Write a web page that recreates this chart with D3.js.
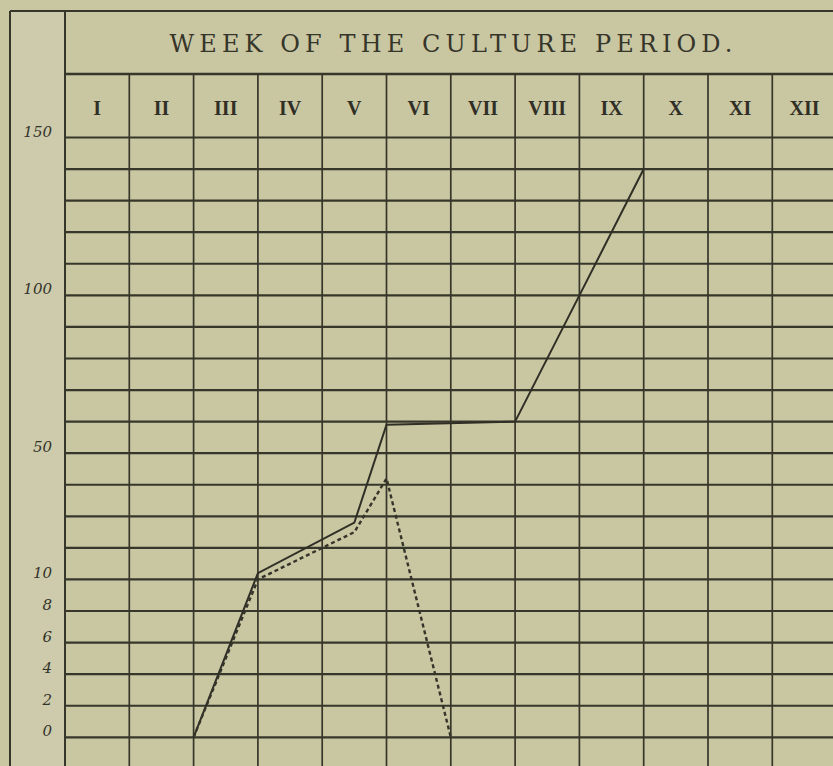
<!DOCTYPE html>
<html>
  <head>
    <meta charset="utf-8">
    <title>Week of the culture period</title>
    <style media="screen">
      body {
        margin: 0;
        background: #c9c6a2;
      }

      .grid {
        stroke: #37362a;
        fill: none;
      }

      .title {
        font-family: "DejaVu Serif", "Liberation Serif", serif;
        font-size: 24px;
        fill: #36352a;
        text-anchor: middle;
      }

      .week {
        font-family: "Liberation Serif", "DejaVu Serif", serif;
        font-size: 20px;
        font-weight: bold;
        fill: #302f26;
        text-anchor: middle;
      }

      .ylab {
        font-family: "DejaVu Serif", "Liberation Serif", serif;
        font-style: italic;
        font-size: 15px;
        fill: #34332a;
        text-anchor: end;
      }
    </style>
  </head>
  <body>
    <div class="container"></div>
    <script src="https://cdn.jsdelivr.net/npm/d3@7"></script>
    <script type="text/javascript">
    var width = 833;
    var height = 766;

    // data
    var weeks = ["I", "II", "III", "IV", "V", "VI", "VII", "VIII", "IX", "X", "XI", "XII"];
    var gridValues = [0, 2, 4, 6, 8, 10, 20, 30, 40, 50, 60, 70, 80, 90, 100, 110, 120, 130, 140, 150];
    var tickLabels = [150, 100, 50, 10, 8, 6, 4, 2, 0];
    // x = week position (0 = start of week I), y = value
    var solidWeek = [2, 3, 4.5, 5, 7, 8, 9];
    var solidValue = [0, 12, 28, 59, 60, 100, 140];
    var dashedWeek = [2, 3, 4.5, 5, 6];
    var dashedValue = [0, 10, 25, 42, 0];

    var svg = d3.select(".container")
        .append("svg")
        .attr("width", width)
        .attr("height", height);

    var frame = { left: 10, top: 11, labelCol: 65, titleBottom: 74 };

    // rows are evenly spaced, but 0-10 goes by 2 and 10-150 by 10
    var y = d3.scaleLinear()
        .domain([0, 10, 150])
        .range([737.3, 579.45, 137.5]);

    var x = d3.scaleLinear()
        .domain([0, 12])
        .range([frame.labelCol, frame.labelCol + 12 * 64.3]);

    // lighter label column
    svg.append("rect")
        .attr("x", frame.left)
        .attr("y", frame.top)
        .attr("width", frame.labelCol - frame.left)
        .attr("height", height - frame.top)
        .attr("fill", "#cdcbab");

    // frame
    svg.append("line").attr("class", "grid")
        .attr("x1", frame.left).attr("x2", width)
        .attr("y1", frame.top).attr("y2", frame.top)
        .attr("stroke-width", 2);
    svg.append("line").attr("class", "grid")
        .attr("x1", frame.left).attr("x2", frame.left)
        .attr("y1", frame.top).attr("y2", height)
        .attr("stroke-width", 2);
    svg.append("line").attr("class", "grid")
        .attr("x1", frame.labelCol).attr("x2", frame.labelCol)
        .attr("y1", frame.top).attr("y2", height)
        .attr("stroke-width", 2);
    svg.append("line").attr("class", "grid")
        .attr("x1", frame.labelCol).attr("x2", width)
        .attr("y1", frame.titleBottom).attr("y2", frame.titleBottom)
        .attr("stroke-width", 2.4);

    // column lines
    svg.selectAll(".vline")
        .data(d3.range(1, 12))
        .enter()
        .append("line")
        .attr("class", "grid vline")
        .attr("x1", function(d) { return x(d); })
        .attr("x2", function(d) { return x(d); })
        .attr("y1", frame.titleBottom)
        .attr("y2", height)
        .attr("stroke-width", 1.7);

    // row lines
    svg.selectAll(".hline")
        .data(gridValues)
        .enter()
        .append("line")
        .attr("class", "grid hline")
        .attr("x1", frame.labelCol)
        .attr("x2", width)
        .attr("y1", function(d) { return y(d); })
        .attr("y2", function(d) { return y(d); })
        .attr("stroke-width", 2.2);

    svg.append("text")
        .attr("class", "title")
        .attr("x", 451)
        .attr("y", 52)
        .attr("textLength", 563)
        .attr("lengthAdjust", "spacing")
        .text("WEEK OF THE CULTURE PERIOD.");

    svg.selectAll(".week")
        .data(weeks)
        .enter()
        .append("text")
        .attr("class", "week")
        .attr("x", function(d, i) { return x(i + 0.5); })
        .attr("y", 115)
        .text(function(d) { return d; });

    svg.selectAll(".ylab")
        .data(tickLabels)
        .enter()
        .append("text")
        .attr("class", "ylab")
        .attr("x", 52)
        .attr("y", function(d) { return y(d) - 1; })
        .text(function(d) { return d; });

    var line = d3.line()
        .x(function(d) { return x(d[0]); })
        .y(function(d) { return y(d[1]); });

    svg.append("path")
        .datum(d3.zip(solidWeek, solidValue))
        .attr("d", line)
        .attr("fill", "none")
        .attr("stroke", "#302f26")
        .attr("stroke-width", 2);

    svg.append("path")
        .datum(d3.zip(dashedWeek, dashedValue))
        .attr("d", line)
        .attr("fill", "none")
        .attr("stroke", "#35342a")
        .attr("stroke-width", 2.4)
        .attr("stroke-dasharray", "4,3");
    </script>
  </body>
</html>
